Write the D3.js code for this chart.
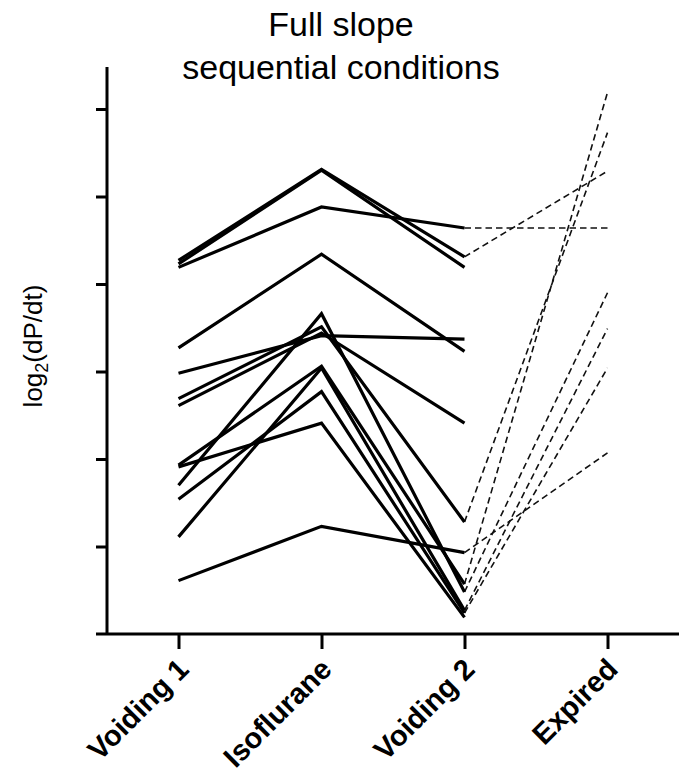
<!DOCTYPE html>
<meta charset="utf-8">
<style>
  body { margin: 0; background: #fff; }
  svg { display: block; }
  text { font-family: "Liberation Sans", Arial, sans-serif; fill: #000; }
  .axis path, .axis line { stroke: #000; stroke-width: 3px; }
  .solid { fill: none; stroke: #000; stroke-width: 3.2px; stroke-linejoin: miter; }
  .dashed { fill: none; stroke: #111; stroke-width: 1.6px; stroke-dasharray: 6.5 4; }
</style>
<body>
<svg></svg>
<script src="https://d3js.org/d3.v7.min.js"></script>
<script>
const categories = ["Voiding 1", "Isoflurane", "Voiding 2", "Expired"];
const voiding1   = [4.27, 4.23, 4.19, 3.27, 2.98, 2.69, 2.61, 1.70, 1.93, 1.11, 1.54, 1.91, 0.61];
const isoflurane = [5.31, 5.30, 4.88, 4.34, 3.41, 3.51, 3.44, 3.66, 3.06, 3.04, 2.77, 2.41, 1.23];
const voiding2   = [4.31, 4.19, 4.64, 3.23, 3.37, 1.28, 2.41, 0.48, 0.57, 0.27, 0.24, 0.19, 0.93];
const expired    = [5.29, null, 4.64, null, null, 5.73, null, 3.90, 6.19, 3.49, 3.04, null, 2.07];
const yTicks = [1, 2, 3, 4, 5, 6];

const width = 679, height = 773;
const svg = d3.select("svg").attr("width", width).attr("height", height);

const x = d3.scalePoint().domain(categories).range([107, 679]).padding(0.5);
const y = d3.scaleLinear().domain([0, 6.48]).range([634, 67]);

// y axis, ticks only
svg.append("g")
  .attr("class", "axis")
  .attr("transform", "translate(107,0)")
  .call(d3.axisLeft(y).tickValues(yTicks).tickSize(11).tickFormat("").tickSizeOuter(0))
  .select(".domain").attr("d", `M0,${y(6.48)}V${y(0)}`);

// x axis
const xa = svg.append("g")
  .attr("class", "axis")
  .attr("transform", "translate(0,634)")
  .call(d3.axisBottom(x).tickSize(15).tickSizeOuter(0).tickFormat(""));
xa.select(".domain").attr("d", "M96,0H679");

xa.selectAll(".lbl")
  .data(categories)
  .join("text")
  .attr("class", "lbl")
  .attr("transform", d => `translate(${x(d) + 12},37) rotate(-45)`)
  .attr("text-anchor", "end")
  .style("font-size", "29px")
  .style("font-weight", "bold")
  .text(d => d);

// solid: Voiding 1 -> Isoflurane -> Voiding 2, dashed: Voiding 2 -> Expired
const line = d3.line().x(d => x(d[0])).y(d => y(d[1]));
const solid = voiding1.map((v, i) => [
  [categories[0], v], [categories[1], isoflurane[i]], [categories[2], voiding2[i]]
]);
const dashed = voiding2.map((v, i) => [[categories[2], v], [categories[3], expired[i]]])
  .filter(d => d[1][1] !== null);

svg.append("g").selectAll("path")
  .data(dashed)
  .join("path")
  .attr("class", "dashed")
  .attr("d", line);

svg.append("g").selectAll("path")
  .data(solid)
  .join("path")
  .attr("class", "solid")
  .attr("d", line);

// title
svg.append("text")
  .attr("x", 341).attr("y", 36)
  .attr("text-anchor", "middle")
  .style("font-size", "34px")
  .text("Full slope");
svg.append("text")
  .attr("x", 341).attr("y", 79)
  .attr("text-anchor", "middle")
  .style("font-size", "34px")
  .text("sequential conditions");

// y label
const yl = svg.append("text")
  .attr("transform", "translate(42,346) rotate(-90)")
  .attr("text-anchor", "middle")
  .style("font-size", "26px");
yl.append("tspan").text("log");
yl.append("tspan").attr("dy", 6).style("font-size", "18px").text("2");
yl.append("tspan").attr("dy", -6).text("(dP/dt)");
</script>
</body>
